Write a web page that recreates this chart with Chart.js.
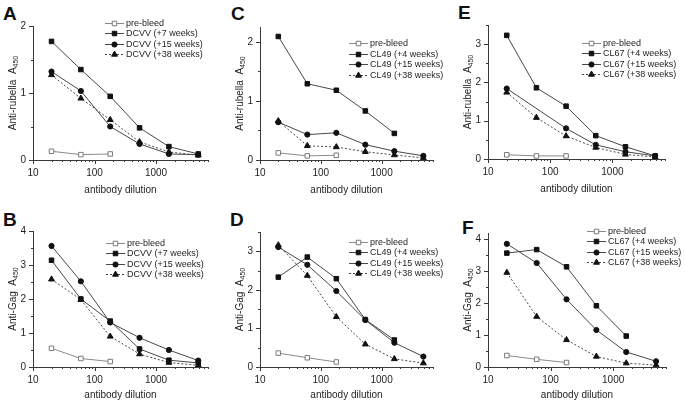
<!DOCTYPE html>
<html>
<head>
<meta charset="utf-8">
<script src="https://cdn.jsdelivr.net/npm/chart.js@4/dist/chart.umd.min.js"></script>
<style>
  html, body { margin: 0; padding: 0; background: #fff; }
  body { width: 685px; height: 403px; position: relative; overflow: hidden; font-family: "Liberation Sans", Arial, sans-serif; }
  canvas { position: absolute; }
  .lbl { position: absolute; font: bold 19px "Liberation Sans", Arial, sans-serif; color: #111; line-height: 1; }
</style>
</head>
<body>
<div class="lbl" style="left:3px;top:4px">A</div>
<div class="lbl" style="left:3px;top:210px">B</div>
<div class="lbl" style="left:231px;top:4px">C</div>
<div class="lbl" style="left:230px;top:210px">D</div>
<div class="lbl" style="left:458px;top:3px">E</div>
<div class="lbl" style="left:462px;top:218px">F</div>
<canvas id="cA" width="228" height="200" style="left:0;top:0"></canvas>
<canvas id="cB" width="228" height="203" style="left:0;top:200px"></canvas>
<canvas id="cC" width="227" height="200" style="left:228px;top:0"></canvas>
<canvas id="cD" width="227" height="203" style="left:228px;top:200px"></canvas>
<canvas id="cE" width="230" height="200" style="left:455px;top:0"></canvas>
<canvas id="cF" width="230" height="203" style="left:455px;top:200px"></canvas>
<script>
// ---------- data ----------
const dilutions = [20, 60, 180, 540, 1620, 4860];
const xTickLabels = [10, 100, 1000];

// A: anti-rubella, DCVV
const A_pre = [0.13, 0.08, 0.09, null, null, null];
const A_w7  = [1.77, 1.35, 0.95, 0.48, 0.20, 0.09];
const A_w15 = [1.32, 1.03, 0.50, 0.24, 0.09, 0.08];
const A_w38 = [1.27, 0.92, 0.60, 0.27, 0.12, 0.07];
// B: anti-Gag, DCVV
const B_pre = [0.55, 0.25, 0.16, null, null, null];
const B_w7  = [3.14, 2.00, 1.35, 0.53, 0.20, 0.12];
const B_w15 = [3.56, 2.52, 1.31, 0.86, 0.50, 0.19];
const B_w38 = [2.58, 1.98, 0.90, 0.38, 0.13, 0.05];
// C: anti-rubella, CL49
const C_pre = [0.12, 0.07, 0.08, null, null, null];
const C_w4  = [2.09, 1.29, 1.18, 0.83, 0.45, null];
const C_w15 = [0.64, 0.43, 0.46, 0.26, 0.15, 0.07];
const C_w38 = [0.66, 0.24, 0.22, 0.14, 0.085, 0.035];
// D: anti-Gag, CL49
const D_pre = [0.36, 0.24, 0.13, null, null, null];
const D_w4  = [2.33, 2.85, 2.29, 1.23, 0.70, null];
const D_w15 = [3.11, 2.65, 1.97, 1.22, 0.63, 0.27];
const D_w38 = [3.16, 2.37, 1.30, 0.59, 0.21, 0.10];
// E: anti-rubella, CL67
const E_pre = [0.11, 0.08, 0.08, null, null, null];
const E_w4  = [3.23, 1.86, 1.38, 0.61, 0.32, 0.08];
const E_w15 = [1.84, null, 0.80, 0.37, 0.19, 0.08];
const E_w38 = [1.74, 1.08, 0.60, 0.30, 0.12, 0.05];
// F: anti-Gag, CL67
const F_pre = [0.36, 0.24, 0.14, null, null, null];
const F_w4  = [3.57, 3.68, 3.14, 1.92, 0.97, null];
const F_w15 = [3.86, 3.26, 2.12, 1.16, 0.47, 0.18];
const F_w38 = [2.96, 1.58, 0.85, 0.33, 0.12, 0.06];

// ---------- style ----------
const FONT = '"Liberation Sans", Arial, sans-serif';
const AXIS = '#3a3a3a';
const TEXT = '#1e1e1e';

function pts(vals) {
  const out = [];
  vals.forEach((v, i) => { if (v !== null) out.push({ x: dilutions[i], y: v }); });
  return out;
}

function makeDatasets(names, series) {
  return [
    { label: names[0], data: pts(series[0]), borderColor: '#8a8a8a', borderWidth: 1,
      pointStyle: 'rect', pointRadius: 3.2, pointBackgroundColor: '#ffffff', pointBorderColor: '#7a7a7a', pointBorderWidth: 1 },
    { label: names[1], data: pts(series[1]), borderColor: '#474747', borderWidth: 1,
      pointStyle: 'rect', pointRadius: 3.2, pointBackgroundColor: '#111', pointBorderColor: '#111', pointBorderWidth: 1 },
    { label: names[2], data: pts(series[2]), borderColor: '#474747', borderWidth: 1,
      pointStyle: 'circle', pointRadius: 2.6, pointBackgroundColor: '#111', pointBorderColor: '#111', pointBorderWidth: 1 },
    { label: names[3], data: pts(series[3]), borderColor: '#474747', borderWidth: 1, borderDash: [2, 2],
      pointStyle: 'triangle', pointRadius: 3.4, pointBackgroundColor: '#111', pointBorderColor: '#111', pointBorderWidth: 1 }
  ];
}

function marker(ctx, style, r, x, y) {
  ctx.beginPath();
  if (style === 'rect') {
    const s = Math.SQRT1_2 * r;
    ctx.rect(x - s, y - s, 2 * s, 2 * s);
  } else if (style === 'circle') {
    ctx.arc(x, y, r, 0, Math.PI * 2);
  } else {
    let a = 0;
    ctx.moveTo(x + Math.sin(a) * r, y - Math.cos(a) * r);
    a += 2 * Math.PI / 3;
    ctx.lineTo(x + Math.sin(a) * r, y - Math.cos(a) * r);
    a += 2 * Math.PI / 3;
    ctx.lineTo(x + Math.sin(a) * r, y - Math.cos(a) * r);
    ctx.closePath();
  }
  ctx.fill();
  ctx.stroke();
}

const decor = {
  id: 'decor',
  afterDraw(chart, args, o) {
    const ctx = chart.ctx, xs = chart.scales.x, ys = chart.scales.y, ca = chart.chartArea;
    ctx.save();
    ctx.strokeStyle = AXIS; ctx.lineWidth = 1;
    // x ticks (major + minor) outward
    for (let d = 10; d <= 1000; d *= 10) {
      for (let m = 1; m <= 9; m++) {
        const v = d * m; if (v > xs.max + 1e-6) break;
        const px = Math.round(xs.getPixelForValue(v)) + 0.5;
        const len = m === 1 ? 4 : 2;
        ctx.beginPath(); ctx.moveTo(px, Math.round(ca.bottom)); ctx.lineTo(px, Math.round(ca.bottom) + len); ctx.stroke();
      }
    }
    // y ticks outward
    for (let v = 0; v <= ys.max + 1e-6; v += 0.5) {
      const py = Math.round(ys.getPixelForValue(v)) + 0.5;
      const len = Number.isInteger(v) ? 4 : 2;
      ctx.beginPath(); ctx.moveTo(Math.round(ca.left), py); ctx.lineTo(Math.round(ca.left) - len, py); ctx.stroke();
    }
    // x title
    ctx.fillStyle = TEXT;
    ctx.font = '10px ' + FONT;
    ctx.textAlign = 'center'; ctx.textBaseline = 'middle';
    ctx.fillText('antibody dilution', (ca.left + ca.right) / 2, ca.bottom + o.xTitleOff);
    // y title with subscript
    ctx.save();
    ctx.translate(o.yTitleX, (ca.top + ca.bottom) / 2);
    ctx.rotate(-Math.PI / 2);
    ctx.textAlign = 'left'; ctx.textBaseline = 'middle';
    ctx.font = '10px ' + FONT;
    const main = o.yTitle + '  A';
    const wm = ctx.measureText(main).width;
    ctx.font = '7px ' + FONT;
    const ws = ctx.measureText('450').width;
    const x0 = -(wm + ws) / 2;
    ctx.font = '10px ' + FONT;
    ctx.fillText(main, x0, 0);
    ctx.font = '7px ' + FONT;
    ctx.fillText('450', x0 + wm, 3);
    ctx.restore();
    // legend
    ctx.font = '9px ' + FONT;
    ctx.textAlign = 'left'; ctx.textBaseline = 'middle';
    chart.data.datasets.forEach((ds, i) => {
      const y = o.legY + i * 10.5;
      const lx = o.legX - 21;
      ctx.save();
      ctx.strokeStyle = ds.borderColor; ctx.lineWidth = 1;
      ctx.setLineDash(ds.borderDash || []);
      ctx.beginPath(); ctx.moveTo(lx, Math.round(y) + 0.5); ctx.lineTo(lx + 19, Math.round(y) + 0.5); ctx.stroke();
      ctx.setLineDash([]);
      ctx.fillStyle = ds.pointBackgroundColor; ctx.strokeStyle = ds.pointBorderColor;
      marker(ctx, ds.pointStyle, ds.pointRadius, lx + 9.5, Math.round(y) + 0.5);
      ctx.restore();
      ctx.fillStyle = TEXT;
      ctx.fillText(ds.label, o.legX, y + 0.5);
    });
    ctx.restore();
  }
};

function makeChart(id, cfg) {
  const cv = document.getElementById(id);
  const W = cv.width, H = cv.height;
  new Chart(cv, {
    type: 'line',
    data: { datasets: makeDatasets(cfg.names, cfg.series) },
    plugins: [decor],
    options: {
      responsive: false, animation: false, devicePixelRatio: 1,
      layout: { padding: { top: cfg.T, right: W - cfg.R, left: 0, bottom: 0 } },
      spanGaps: true,
      plugins: {
        legend: { display: false }, tooltip: { enabled: false },
        decor: { yTitle: cfg.yTitle, yTitleX: cfg.yTitleX, xTitleOff: cfg.xTitleOff, legX: cfg.legX, legY: cfg.legY }
      },
      scales: {
        x: {
          type: 'logarithmic', position: 'bottom', min: 10, max: 7000,
          grid: { display: false, drawTicks: true, tickLength: 4 },
          border: { display: true, color: AXIS, width: 1 },
          afterFit: s => { s.height = H - cfg.B; },
          ticks: {
            autoSkip: false, maxRotation: 0, padding: 3, color: TEXT, font: { size: 10, family: FONT },
            callback: v => xTickLabels.includes(Math.round(v)) && Math.abs(Math.round(v) - v) < 1e-6 ? String(Math.round(v)) : ''
          }
        },
        y: {
          type: 'linear', min: 0, max: cfg.ymax,
          grid: { display: false, drawTicks: true, tickLength: 4 },
          border: { display: true, color: AXIS, width: 1 },
          afterFit: s => { s.width = cfg.L; },
          ticks: {
            stepSize: 1, includeBounds: false, padding: 3, color: TEXT, font: { size: 10, family: FONT },
            callback: v => Number.isInteger(v) ? String(v) : ''
          }
        }
      }
    }
  });
}

makeChart('cA', { names: ['pre-bleed', 'DCVV (+7 weeks)', 'DCVV (+15 weeks)', 'DCVV (+38 weeks)'],
  series: [A_pre, A_w7, A_w15, A_w38], ymax: 2, yTitle: 'Anti-rubella',
  L: 33, R: 208, T: 26, B: 160, yTitleX: 13, xTitleOff: 30, legX: 126, legY: 22.7 });
makeChart('cB', { names: ['pre-bleed', 'DCVV (+7 weeks)', 'DCVV (+15 weeks)', 'DCVV (+38 weeks)'],
  series: [B_pre, B_w7, B_w15, B_w38], ymax: 4, yTitle: 'Anti-Gag',
  L: 33, R: 208, T: 31, B: 167, yTitleX: 13, xTitleOff: 28, legX: 127, legY: 42.7 });
makeChart('cC', { names: ['pre-bleed', 'CL49 (+4 weeks)', 'CL49 (+15 weeks)', 'CL49 (+38 weeks)'],
  series: [C_pre, C_w4, C_w15, C_w38], ymax: 2.25, yTitle: 'Anti-rubella',
  L: 32, R: 205, T: 27, B: 160, yTitleX: 12, xTitleOff: 30, legX: 142, legY: 43.3 });
makeChart('cD', { names: ['pre-bleed', 'CL49 (+4 weeks)', 'CL49 (+15 weeks)', 'CL49 (+38 weeks)'],
  series: [D_pre, D_w4, D_w15, D_w38], ymax: 3.5, yTitle: 'Anti-Gag',
  L: 32, R: 205, T: 32, B: 167, yTitleX: 12, xTitleOff: 28, legX: 142, legY: 41.7 });
makeChart('cE', { names: ['pre-bleed', 'CL67 (+4 weeks)', 'CL67 (+15 weeks)', 'CL67 (+38 weeks)'],
  series: [E_pre, E_w4, E_w15, E_w38], ymax: 3.5, yTitle: 'Anti-rubella',
  L: 33, R: 210, T: 25, B: 159, yTitleX: 13, xTitleOff: 30, legX: 148, legY: 42.7 });
makeChart('cF', { names: ['pre-bleed', 'CL67 (+4 weeks)', 'CL67 (+15 weeks)', 'CL67 (+38 weeks)'],
  series: [F_pre, F_w4, F_w15, F_w38], ymax: 4.2, yTitle: 'Anti-Gag',
  L: 33, R: 211, T: 33, B: 167, yTitleX: 13, xTitleOff: 28, legX: 153, legY: 30.7 });
</script>
</body>
</html>
